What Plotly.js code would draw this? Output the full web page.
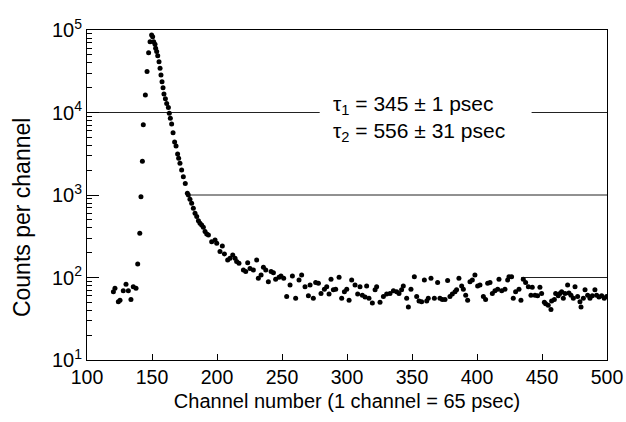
<!DOCTYPE html>
<html>
<head>
<meta charset="utf-8">
<script src="https://cdn.plot.ly/plotly-3.0.1.min.js"></script>
<style>html,body{margin:0;padding:0;background:#fff;}#chart{width:626px;height:422px;}</style>
</head>
<body>
<div id="chart"></div>
<script>
// Channel numbers of the measured points
const channel = [
  120.3,121.5,124.1,125.4,127.9,130.0,131.8,133.8,135.6,137.7,
  139.0,140.6,141.5,142.6,143.3,144.9,146.2,147.4,148.5,149.7,
  150.5,151.3,152.3,152.8,153.6,154.4,155.4,156.2,156.9,157.7,
  158.5,159.2,160.3,161.3,162.6,163.3,164.1,165.1,166.2,167.4,
  168.5,169.7,170.5,171.5,172.8,174.1,175.6,177.2,
  178.0,179.2,180.5,181.8,183.1,184.4,185.7,186.9,188.2,189.5,
  190.8,192.1,193.4,195.9,198.5,199.8,202.3,204.1,205.7,208.2,
  210.0,212.1,213.9,215.1,216.9,220.3,222.1,223.6,225.4,228.0,
  230.5,231.8,233.9,235.7,237.5,239.5,241.6,243.4,245.1,247.7,
  249.2,251.3,253.6,256.2,258.0,260.5,263.1,265.1,267.7,270.3,
  271.6,274.1,275.9,278.0,280.0,282.6,284.4,286.2,287.7,289.5,
  291.3,293.9,295.9,298.0,299.8,301.6,303.6,306.2,308.2,310.0,
  311.8,313.9,315.1,316.9,319.5,321.6,322.8,325.4,328.0,330.5,
  333.1,335.7,
  338.2,340.0,342.0,343.3,345.9,347.2,349.2,351.8,353.6,355.4,
  357.4,359.5,361.3,362.5,364.6,367.2,369.7,371.5,373.3,375.4,
  377.4,379.2,381.0,383.1,384.3,386.1,388.2,389.5,391.3,392.8,
  394.6,396.4,398.4,400.5,402.3,404.9,406.6,408.2,410.0,411.8,
  413.8,415.9,416.9,419.0,421.5,423.6,424.6,426.6,427.9,429.7,
  432.3,433.8,435.6,437.4,439.5,441.5,442.5,444.6,446.6,448.4,
  449.7,451.8,452.8,454.8,456.9,457.4,459.5,460.5,462.5,463.8,
  465.1,466.4,467.7,469.7,470.7,472.3,474.1,475.4,477.4,479.2,
  480.0,481.8,483.1,485.1,486.9,488.7,490.7,492.0,493.8,495.9,
  497.9,499.7
];
// Counts per channel for each point
const counts = [
  67,74,51,53,69,83,69,54,77,74,
  146,344,955,2560,7110,16300,31300,53000,72100,86900,
  83000,72000,67000,60000,55000,48900,41300,34300,28500,23600,
  20000,16800,14700,12900,11500,9770,8500,7250,5690,4390,
  3920,3140,2780,2420,2010,1670,1380,1050,
  1000,887,792,690,600,547,489,454,433,406,
  360,337,328,272,285,260,206,241,193,163,
  171,187,171,156,149,123,118,151,129,123,
  163,98,107,133,123,89,118,114,95,101,
  104,98,59,81,104,56,93,107,77,60,
  81,56,87,85,64,72,77,63,95,71,
  72,101,56,67,72,53,93,81,63,77,
  61,58,79,56,49,71,77,50,59,63,
  64,69,
  67,64,71,79,56,44,72,102,59,52,
  51,93,52,56,98,56,87,56,54,54,
  92,59,63,67,71,98,79,72,61,53,
  89,93,107,79,81,59,54,85,87,64,
  69,72,95,69,72,93,102,102,56,67,
  72,53,95,87,77,61,76,61,60,76,
  64,50,48,46,41,52,54,64,60,64,
  67,56,64,81,65,61,56,77,59,51,
  44,56,71,61,56,60,71,61,58,60,
  56,59
];
// Tick values / labels
const xTicks = [100,150,200,250,300,350,400,450,500];
const yTicks = [10,100,1000,10000,100000];
const yTickText = ['10<sup>1</sup>','10<sup>2</sup>','10<sup>3</sup>','10<sup>4</sup>','10<sup>5</sup>'];
// Remaining fragments of the reference lines at each decade
const gridX = [100,279,null,442,500,null,180,500,null,434,500];
const gridY = [1e4,1e4,null,1e4,1e4,null,1e3,1e3,null,1e2,1e2];
const fitText = ['\u03c4<sub>1</sub> = 345 \u00b1 1 psec','\u03c4<sub>2</sub> = 556 \u00b1 31 psec'];
const xTitle = 'Channel number (1 channel = 65 psec)';
const yTitle = 'Counts per channel';

const font = 'Liberation Sans, Arial, Helvetica, sans-serif';
const traces = [
  {x: gridX, y: gridY, mode: 'lines', line: {color: '#222', width: 1}, hoverinfo: 'skip', showlegend: false},
  {x: channel, y: counts, mode: 'markers', marker: {symbol: 'circle', size: 5, color: '#000'}, showlegend: false}
];
const layout = {
  width: 626, height: 422,
  margin: {l: 87, r: 19, t: 30, b: 62},
  paper_bgcolor: '#fff', plot_bgcolor: '#fff',
  font: {family: font, color: '#000'},
  showlegend: false,
  xaxis: {
    range: [100, 500], tickvals: xTicks, ticktext: xTicks.map(String),
    ticks: 'inside', ticklen: 6, tickcolor: '#000',
    showline: true, linecolor: '#000', linewidth: 1, mirror: true,
    showgrid: false, zeroline: false,
    tickfont: {size: 19.5, family: font},
    title: {text: xTitle, font: {size: 20, family: font}, standoff: 6}
  },
  yaxis: {
    type: 'log', range: [1, 5], tickvals: yTicks, ticktext: yTickText,
    ticks: 'inside', ticklen: 12, tickcolor: '#000',
    minor: {ticks: 'inside', ticklen: 5, dtick: 'D1', tickcolor: '#000', showgrid: false},
    showline: true, linecolor: '#000', linewidth: 1, mirror: true,
    showgrid: false, zeroline: false,
    tickfont: {size: 20, family: font}
  },
  annotations: [
    {xref: 'paper', yref: 'paper', x: -0.125, y: 0.43, xanchor: 'center', yanchor: 'middle', showarrow: false,
     textangle: -90, text: yTitle, font: {size: 23, family: font}},
    {xref: 'paper', yref: 'paper', x: 0.47, y: 0.772, xanchor: 'left', yanchor: 'middle', showarrow: false,
     text: fitText[0], font: {size: 21, family: font}},
    {xref: 'paper', yref: 'paper', x: 0.47, y: 0.692, xanchor: 'left', yanchor: 'middle', showarrow: false,
     text: fitText[1], font: {size: 21, family: font}}
  ]
};
Plotly.newPlot('chart', traces, layout, {displayModeBar: false, staticPlot: true});
</script>
</body>
</html>
